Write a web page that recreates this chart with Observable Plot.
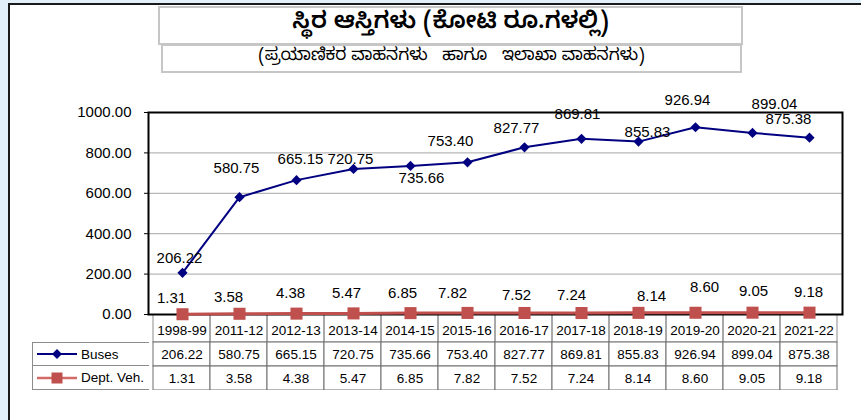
<!DOCTYPE html>
<html>
<head>
<meta charset="utf-8">
<script src="https://cdn.jsdelivr.net/npm/d3@7"></script>
<script src="https://cdn.jsdelivr.net/npm/@observablehq/plot@0.6"></script>
<style>
  html, body { margin: 0; padding: 0; }
  body { width: 861px; height: 420px; background: #e1f0fb; overflow: hidden; position: relative; font-family: "Liberation Sans", Arial, sans-serif; }
  #page { position: absolute; left: 8px; top: 3px; width: 870px; height: 430px; background: #fff; border-left: 2px solid #1a1a1a; border-top: 2px solid #1a1a1a; }
  .tbox { position: absolute; border: 2px solid #c6c6c6; box-sizing: border-box; text-align: center; color: #000; background: #fff; font-family: "Noto Sans Kannada", "Noto Sans", "Liberation Sans", sans-serif; white-space: nowrap; }
  #title { left: 158px; top: 6px; width: 585px; height: 39px; font-size: 23.5px; font-weight: 600; line-height: 34px; }
  #subtitle { left: 161px; top: 44px; width: 581px; height: 29px; font-size: 17px; line-height: 24px; }
  #chart { position: absolute; left: 0; top: 0; z-index: 3; }
  #table { position: absolute; left: 0; top: 314px; z-index: 2; }
  #legend { position: absolute; left: 32px; top: 342px; width: 117px; z-index: 2; }
  #legend div { height: 24px; border: 1px solid #8c8c8c; border-right: none; box-sizing: border-box; display: flex; align-items: center; font-size: 13.5px; background: #fff; }
  #legend div + div { border-top: none; height: 24px; }
  #legend svg { margin-left: 4px; margin-right: 0px; }
</style>
</head>
<body>
<div id="page"></div>
<div id="title" class="tbox">ಸ್ಥಿರ ಆಸ್ತಿಗಳು (ಕೋಟಿ ರೂ.ಗಳಲ್ಲಿ)</div>
<div id="subtitle" class="tbox">(ಪ್ರಯಾಣಿಕರ ವಾಹನಗಳು&nbsp;&nbsp; ಹಾಗೂ &nbsp;&nbsp;ಇಲಾಖಾ ವಾಹನಗಳು)</div>
<div id="chart"></div>
<div id="table"></div>
<div id="legend"></div>
<script>
// ---- data ----
const years = ["1998-99","2011-12","2012-13","2013-14","2014-15","2015-16","2016-17","2017-18","2018-19","2019-20","2020-21","2021-22"];
const buses = [206.22,580.75,665.15,720.75,735.66,753.40,827.77,869.81,855.83,926.94,899.04,875.38];
const deptVeh = [1.31,3.58,4.38,5.47,6.85,7.82,7.52,7.24,8.14,8.60,9.05,9.18];
const seriesNames = ["Buses","Dept. Veh."];
const yTicks = [0,200,400,600,800,1000];

// ---- label nudges (pixels), matching the reference's label placement ----
const busNudgeX = [-3,-3,4,-3,11,-17,-8,-4,9,-8,22,-21];
const busNudgeY = [-15,-29,-21,-10,12,-21,-19,-25,-9,-27,-29,-18];
const deptNudgeX = [-11,-11,-6,-7,-8,-15,-8,-10,13,9,1,-1];
const deptNudgeY = [-16,-17,-20,-20,-20,-20,-18,-18,-17,-26,-21,-20];

const busColor = "#000080";
const deptColor = "#c0504d";
const fmt = d3.format(".2f");
const font = "Liberation Sans, Arial, sans-serif";

const busData = years.map((y, i) => ({year: y, value: buses[i], dx: busNudgeX[i], dy: busNudgeY[i]}));
const deptData = years.map((y, i) => ({year: y, value: deptVeh[i], dx: deptNudgeX[i], dy: deptNudgeY[i]}));

const W = 861, ML = 148, MR = 19;

const labels = (data) => data.map(d => Plot.text([d], {
  x: "year", y: "value", text: d => fmt(d.value), dx: d.dx, dy: d.dy,
  fontSize: 15, fill: "#000"
}));

const chart = Plot.plot({
  width: W, height: 330,
  marginLeft: ML, marginRight: MR, marginTop: 112, marginBottom: 16,
  style: {background: "transparent", fontFamily: font},
  x: {type: "point", domain: years, padding: 0.5, axis: null},
  y: {domain: [0, 1000], ticks: yTicks, tickFormat: fmt, label: null, tickSize: 4, tickPadding: 13},
  marks: [
    Plot.gridY(yTicks, {stroke: "#a6a6a6", strokeOpacity: 1, strokeWidth: 1}),
    Plot.axisY(yTicks, {tickFormat: fmt, tickSize: 4, tickPadding: 13, fontSize: 15, stroke: "#000", label: null}),
    Plot.frame({stroke: "#000", strokeWidth: 2}),
    Plot.line(deptData, {x: "year", y: "value", stroke: deptColor, strokeWidth: 3}),
    Plot.dot(deptData, {x: "year", y: "value", symbol: "square", r: 6.8, fill: deptColor, stroke: "none"}),
    Plot.line(busData, {x: "year", y: "value", stroke: busColor, strokeWidth: 2}),
    Plot.dot(busData, {x: "year", y: "value", symbol: "diamond2", r: 4.6, fill: busColor, stroke: "none"}),
    ...labels(busData),
    ...labels(deptData)
  ]
});
document.getElementById("chart").appendChild(chart);

// ---- data table under the chart ----
const headerRow = "header";
const tableRows = [headerRow, ...seriesNames];
const cellData = [];
years.forEach((y, i) => {
  cellData.push({year: y, row: headerRow, text: y});
  cellData.push({year: y, row: seriesNames[0], text: fmt(buses[i])});
  cellData.push({year: y, row: seriesNames[1], text: fmt(deptVeh[i])});
});

const table = Plot.plot({
  width: W, height: 76,
  marginLeft: ML, marginRight: MR, marginTop: 4, marginBottom: 0,
  style: {background: "transparent", fontFamily: font},
  x: {type: "band", domain: years, padding: 0, axis: null},
  y: {type: "band", domain: tableRows, padding: 0, axis: null},
  marks: [
    Plot.cell(cellData.filter(d => d.row === headerRow), {x: "year", y: "row", fill: "none", stroke: "#8c8c8c", insetTop: -4}),
    Plot.cell(cellData.filter(d => d.row !== headerRow), {x: "year", y: "row", fill: "#fff", stroke: "#6e6e6e"}),
    Plot.text(cellData, {x: "year", y: "row", text: "text", fontSize: 13.5, fill: "#000"})
  ]
});
document.getElementById("table").appendChild(table);

// ---- legend column of the table ----
const legend = document.getElementById("legend");
const legendIcons = [
  `<svg width="44" height="12"><line x1="0" y1="6" x2="40" y2="6" stroke="${busColor}" stroke-width="2"/><path d="M20,1 L25,6 L20,11 L15,6 Z" fill="${busColor}"/></svg>`,
  `<svg width="44" height="12"><line x1="0" y1="6" x2="40" y2="6" stroke="#d26a68" stroke-width="2.5"/><rect x="14.5" y="0.5" width="11" height="11" fill="${deptColor}"/></svg>`
];
seriesNames.forEach((name, i) => {
  const row = document.createElement("div");
  row.innerHTML = legendIcons[i] + `<span>${name}</span>`;
  legend.appendChild(row);
});
</script>
</body>
</html>
